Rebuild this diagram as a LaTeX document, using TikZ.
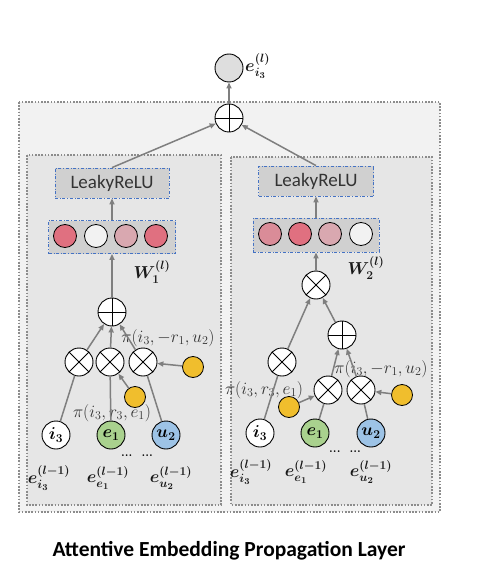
\documentclass[tikz,border=0pt]{standalone}
\usepackage{amsmath,bm}
\usepackage{fontspec}
\newfontfamily\calfont{Carlito}
\usetikzlibrary{arrows.meta}

\definecolor{linegray}{HTML}{7F7F7F}
\definecolor{boxgray}{HTML}{8C8C8C}
\definecolor{outergray}{HTML}{F2F2F2}
\definecolor{innergray}{HTML}{E6E6E6}
\definecolor{lrgray}{HTML}{D0D0D0}
\definecolor{boxblue}{HTML}{4472C4}
\definecolor{attyellow}{HTML}{F0BE2D}
\definecolor{entgreen}{HTML}{A9D18E}
\definecolor{usrblue}{HTML}{9DC3E6}
\definecolor{wpink}{HTML}{E07080}
\definecolor{wrose}{HTML}{DA8C98}
\definecolor{wlight}{HTML}{D9A8B0}
\definecolor{wwhite}{HTML}{F2F2F2}

\begin{document}
\begin{tikzpicture}[x=1pt,y=-1pt,
	every node/.style={inner sep=0pt},
	op/.style={circle, draw, fill=white, minimum size=28pt, line width=0.9pt},
	sumop/.style={op, path picture={\draw[line width=0.9pt] (path picture bounding box.north) -- (path picture bounding box.south) (path picture bounding box.west) -- (path picture bounding box.east);}},
	mulop/.style={op, path picture={\draw[line width=0.9pt] (path picture bounding box.north west) -- (path picture bounding box.south east) (path picture bounding box.north east) -- (path picture bounding box.south west);}},
	emb/.style={circle, draw, minimum size=28pt, line width=0.9pt, font=\boldmath\fontsize{18}{20}\selectfont},
	att/.style={circle, draw, fill=attyellow, minimum size=21pt, line width=0.8pt},
	unit/.style={circle, draw, minimum size=23pt, line width=0.8pt},
	dotbox/.style={draw=boxgray, line width=1.6pt, dash pattern=on 1.6pt off 1.6pt},
	dashbox/.style={draw=boxblue, dash dot, line width=0.8pt, fill=lrgray},
	flow/.style={draw=linegray, line width=1.5pt, -{Triangle[length=6pt,width=5pt]}},
	link/.style={draw=linegray, line width=1.5pt},
	lbl/.style={font=\fontsize{17}{19}\selectfont, text=black!80},
	elbl/.style={font=\boldmath\fontsize{18}{21}\selectfont, text=black!90},
	]

	\useasboundingbox (0,0) rectangle (482,577);

	% outer and inner boxes
	\draw[dotbox, fill=outergray] (19,102) rectangle (440,512);
	\draw[dotbox, fill=innergray] (27,155) rectangle (221,505);
	\draw[dotbox, fill=innergray] (231,157) rectangle (432,505);

	% output
	\node[circle, draw, fill=lrgray!70, minimum size=28pt, line width=0.9pt] (out) at (229,68) {};
	\node[elbl, anchor=west] (outlbl) at (245,66) {$e_{i_3}^{(l)}$};
	\node[sumop] (topsum) at (229,118) {};

	% left branch
	\node[dashbox, minimum width=114pt, minimum height=30pt, font=\calfont\fontsize{19}{21}\selectfont, text=black!80] (lrelu1) at (112,183) {LeakyReLU};
	\node[dashbox, minimum width=127pt, minimum height=33pt] (vec1) at (112,237) {};
	\foreach \cx/\cc in {65/wpink, 96/wwhite, 126/wlight, 156/wpink}
		\node[unit, fill=\cc] at (\cx,236) {};
	\node[elbl] (w1) at (152,272) {$W_1^{(l)}$};
	\node[sumop] (sum1) at (112,312) {};
	\node[mulop] (mul11) at (79,362) {};
	\node[mulop] (mul12) at (110,362) {};
	\node[mulop] (mul13) at (143,362) {};
	\node[att] (att1a) at (135,397) {};
	\node[att] (att1b) at (193,367) {};
	\node[emb, fill=white] (li) at (56,435) {$i_3$};
	\node[emb, fill=entgreen] (le) at (111,435) {$e_1$};
	\node[emb, fill=usrblue] (lu) at (166,435) {$u_2$};
	\node[lbl] (pi1b) at (168,338) {$\pi(i_3,-r_1,u_2)$};
	\node[lbl] (pi1a) at (112,413) {$\pi(i_3,r_3,e_1)$};
	\node[font=\bfseries\fontsize{12}{12}\selectfont] (dots1) at (137,456) {...\ \ ...};
	\node[elbl] (eli) at (49,478) {$e_{i_3}^{(l-1)}$};
	\node[elbl] (ele) at (108,478) {$e_{e_1}^{(l-1)}$};
	\node[elbl] (elu) at (171,478) {$e_{u_2}^{(l-1)}$};

	\draw[link] (li) -- (mul11);
	\draw[link] (le) -- (mul12);
	\draw[link] (lu) -- (mul13);
	\draw[flow] (att1a) -- (mul12);
	\draw[flow] (att1b) -- (mul13);
	\draw[flow] (mul11) -- (sum1);
	\draw[flow] (mul12) -- (sum1);
	\draw[flow] (mul13) -- (sum1);
	\draw[flow] (sum1) -- (vec1);
	\draw[flow] (vec1) -- (lrelu1);
	\draw[flow] (lrelu1.north) -- (topsum);

	% right branch
	\node[dashbox, minimum width=115pt, minimum height=30pt, font=\calfont\fontsize{19}{21}\selectfont, text=black!80] (lrelu2) at (316,181) {LeakyReLU};
	\node[dashbox, minimum width=126pt, minimum height=34pt] (vec2) at (316,235) {};
	\foreach \cx/\cc in {270/wrose, 300/wpink, 330/wlight, 361/wwhite}
		\node[unit, fill=\cc] at (\cx,234) {};
	\node[elbl] (w2) at (366,268) {$W_2^{(l)}$};
	\node[mulop] (mulA) at (316,285) {};
	\node[sumop] (sum2) at (342,335) {};
	\node[mulop] (mul21) at (282,362) {};
	\node[mulop] (mul22) at (328,390) {};
	\node[mulop] (mul23) at (361,390) {};
	\node[att] (att2a) at (289,407) {};
	\node[att] (att2b) at (402,395) {};
	\node[emb, fill=white] (ri) at (260,433) {$i_3$};
	\node[emb, fill=entgreen] (re) at (315,433) {$e_1$};
	\node[emb, fill=usrblue] (ru) at (371,433) {$u_2$};
	\node[lbl] (pi2b) at (381,369) {$\pi(i_3,-r_1,u_2)$};
	\node[lbl] (pi2a) at (264,390) {$\pi(i_3,r_3,e_1)$};
	\node[font=\bfseries\fontsize{12}{12}\selectfont] (dots2) at (345,452) {...\ \ ...};
	\node[elbl] (eri) at (251,472) {$e_{i_3}^{(l-1)}$};
	\node[elbl] (ere) at (306,472) {$e_{e_1}^{(l-1)}$};
	\node[elbl] (eru) at (371,472) {$e_{u_2}^{(l-1)}$};

	\draw[link] (ri) -- (mul21);
	\draw[link] (re) -- (mul22);
	\draw[link] (ru) -- (mul23);
	\draw[flow] (att2a) -- (mul22);
	\draw[flow] (att2b) -- (mul23);
	\draw[flow] (mul22) -- (sum2);
	\draw[flow] (mul23) -- (sum2);
	\draw[flow] (mul21) -- (mulA);
	\draw[flow] (sum2) -- (mulA);
	\draw[flow] (mulA) -- (vec2);
	\draw[flow] (vec2) -- (lrelu2);
	\draw[flow] (lrelu2.north) -- (topsum);

	\draw[flow] (topsum) -- (out);

	% caption
	\node[font=\calfont\bfseries\fontsize{21.5}{24}\selectfont] (title) at (229,551) {Attentive Embedding Propagation Layer};

\end{tikzpicture}
\end{document}
